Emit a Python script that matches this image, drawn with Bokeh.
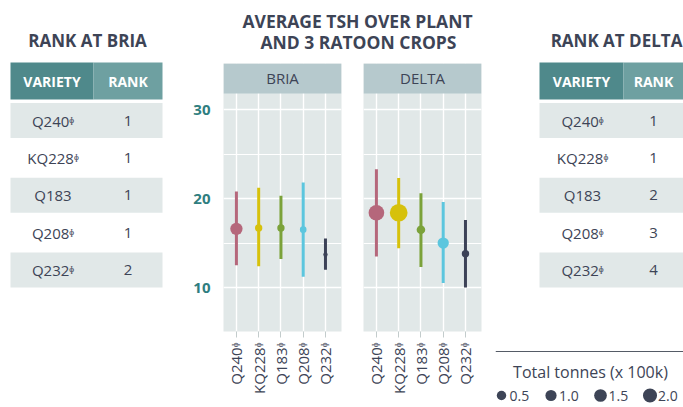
import math
from bokeh.plotting import figure
from bokeh.layouts import row, column
from bokeh.models import Range1d, FixedTicker, LinearAxis, Grid
from bokeh.core.properties import value
from bokeh.embed import file_html
from bokeh.resources import INLINE

# ---------------- data ----------------
varieties = ["Q240", "KQ228", "Q183", "Q208", "Q232"]
pbr_table = [True, True, False, True, True]
rank_bria = [1, 1, 1, 1, 2]
rank_delta = [1, 1, 2, 3, 4]

bria_mean = [16.6, 16.7, 16.7, 16.5, 13.7]
bria_low = [12.5, 12.4, 13.2, 11.2, 12.0]
bria_high = [20.8, 21.2, 20.3, 21.8, 15.5]
bria_tonnes = [3.1, 1.1, 1.1, 0.9, 0.4]

delta_mean = [18.4, 18.4, 16.5, 15.0, 13.8]
delta_low = [13.5, 14.4, 12.3, 10.5, 10.0]
delta_high = [23.3, 22.3, 20.6, 19.6, 17.6]
delta_tonnes = [5.0, 6.4, 1.5, 2.6, 1.1]

legend_tonnes = [0.5, 1.0, 1.5, 2.0]
y_ticks = [10, 20, 30]
y_minor = [15, 25]

colors = ["#b5677b", "#d6c10c", "#7ba23a", "#5cc6de", "#3c4257"]
PBR = "\u1db2"

FONT = "Open Sans"
DARK = "#3d4456"
TEAL = "#2f7e80"
PANEL_BG = "#e1e8e8"
STRIP_BG = "#b6c9cd"
HDR1 = "#4f898b"
HDR2 = "#6ea0a1"


def size_px(t):
    # marker diameter in the panels
    return 7.0 * math.sqrt(t)


def key_px(t):
    # legend key diameter
    return 1.15 * math.sqrt(40.0 + 55.0 * t)


def blank_fig(w, h):
    p = figure(width=w, height=h, x_range=Range1d(0, w), y_range=Range1d(h, 0),
               x_axis_type=None, y_axis_type=None, output_backend="svg",
               toolbar_location=None, min_border=0)
    p.grid.visible = False
    p.outline_line_color = None
    p.background_fill_color = None
    p.border_fill_color = None
    return p


def draw_table(p, xl, xs, xr, tx, title, ranks):
    p.text(x=[tx], y=[40], text=[title], text_font=value(FONT), text_font_style="bold",
           text_font_size="17px", text_color=DARK, text_align="center", text_baseline="middle")
    p.quad(left=[xl], right=[xs], top=[62], bottom=[99], fill_color=HDR1, line_color=None)
    p.quad(left=[xs], right=[xr], top=[62], bottom=[99], fill_color=HDR2, line_color=None)
    p.text(x=[(xl + xs) / 2, (xs + xr) / 2], y=[81, 81], text=["VARIETY", "RANK"],
           text_font=value(FONT), text_font_style="bold", text_font_size="14px",
           text_color="white", text_align="center", text_baseline="middle")
    n = len(varieties)
    yc = [120 + 37.4 * i for i in range(n)]
    sh = [y for i, y in enumerate(yc) if i % 2 == 0]
    p.quad(left=[xl] * len(sh), right=[xr] * len(sh), top=[y - 17.5 for y in sh],
           bottom=[y + 17.5 for y in sh], fill_color=PANEL_BG, line_color=None)
    labels = [v + (PBR if m else "") for v, m in zip(varieties, pbr_table)]
    p.text(x=[(xl + xs) / 2 + 1] * n, y=yc, text=labels, text_font=value(FONT),
           text_font_size="15px", text_color=DARK, text_align="center", text_baseline="middle")
    p.text(x=[(xs + xr) / 2] * n, y=yc, text=[str(r) for r in ranks], text_font=value(FONT),
           text_font_size="15px", text_color=DARK, text_align="center", text_baseline="middle")


# ---------------- left table ----------------
left = blank_fig(190, 407)
draw_table(left, 10, 93, 162, 87, "RANK AT BRIA", rank_bria)

# ---------------- centre title ----------------
ctitle = blank_fig(305, 63)
ctitle.text(x=[167, 168], y=[20, 41], text=["AVERAGE TSH OVER PLANT", "AND 3 RATOON CROPS"],
            text_font=value(FONT), text_font_style="bold", text_font_size="17.5px",
            text_color=DARK, text_align="center", text_baseline="middle")

# ---------------- panels ----------------
Y0, Y1 = 5.06, 35.17
STRIP_LO = 31.8
X0, X1 = 0.42, 5.72


def panel(name, means, lows, highs, tonnes, w, bl, br, with_y):
    p = figure(width=w, height=344, x_range=Range1d(X0, X1), y_range=Range1d(Y0, Y1),
               x_axis_type=None, y_axis_type=None, output_backend="svg",
               toolbar_location=None, min_border_left=bl, min_border_right=br,
               min_border_top=0, min_border_bottom=76)
    p.background_fill_color = PANEL_BG
    p.border_fill_color = None
    p.outline_line_color = None
    xs = list(range(1, len(varieties) + 1))
    p.add_layout(Grid(dimension=1, ticker=FixedTicker(ticks=y_ticks, minor_ticks=y_minor),
                      grid_line_color="white", grid_line_width=1.4,
                      minor_grid_line_color="white", minor_grid_line_width=1.1))
    p.add_layout(Grid(dimension=0, ticker=FixedTicker(ticks=xs),
                      grid_line_color="white", grid_line_width=1.4))
    xa = LinearAxis(ticker=FixedTicker(ticks=xs),
                    major_label_overrides={i: v + PBR for i, v in zip(xs, varieties)},
                    major_label_orientation=math.pi / 2, axis_line_color=None,
                    major_tick_in=0, major_tick_out=6, major_tick_line_color="#c3cccc",
                    minor_tick_line_color=None, major_label_standoff=5,
                    major_label_text_font=FONT, major_label_text_font_size="15px",
                    major_label_text_color=DARK)
    p.add_layout(xa, "below")
    if with_y:
        ya = LinearAxis(ticker=FixedTicker(ticks=y_ticks), axis_line_color=None,
                        major_tick_line_color=None, minor_tick_line_color=None,
                        major_label_standoff=7, major_label_text_font=FONT,
                        major_label_text_font_style="bold", major_label_text_font_size="15px",
                        major_label_text_color=TEAL)
        p.add_layout(ya, "left")
    p.segment(x0=xs, y0=lows, x1=xs, y1=highs, line_color=colors, line_width=3)
    p.scatter(x=xs, y=means, size=[size_px(t) for t in tonnes], fill_color=colors,
              line_color=None)
    # facet strip
    p.quad(left=[X0], right=[X1], bottom=[STRIP_LO], top=[Y1], fill_color=STRIP_BG, line_color=None)
    p.text(x=[(X0 + X1) / 2], y=[(STRIP_LO + Y1) / 2], text=[name], text_font=value(FONT),
           text_font_size="15px", text_color=DARK, text_align="center", text_baseline="middle")
    return p


bria = panel("BRIA", bria_mean, bria_low, bria_high, bria_tonnes, 162, 33, 11, True)
delta = panel("DELTA", delta_mean, delta_low, delta_high, delta_tonnes, 143, 11, 14, False)

centre = column(ctitle, row(bria, delta, spacing=0), spacing=0)

# ---------------- right table + legend ----------------
right = blank_fig(188, 407)
draw_table(right, 44, 128, 188, 121, "RANK AT DELTA", rank_delta)
right.segment(x0=[0], y0=[351], x1=[188], y1=[351], line_color="#555b66", line_width=1)
right.text(x=[95], y=[371], text=["Total tonnes (x 100k)"], text_font=value(FONT),
           text_font_size="16px", text_color=DARK, text_align="center", text_baseline="middle")
lx = [6 + 49.5 * i for i in range(len(legend_tonnes))]
ly = [395] * len(legend_tonnes)
right.scatter(x=lx, y=ly, size=[key_px(t) for t in legend_tonnes], fill_color=DARK, line_color=None)
right.text(x=[x + 8 for x in lx], y=ly, text=["%.1f" % t for t in legend_tonnes],
           text_font=value(FONT), text_font_size="14px", text_color=DARK,
           text_align="left", text_baseline="middle")

layout = row(left, centre, right, spacing=0)

open("out.html", "w").write(file_html(layout, INLINE))
